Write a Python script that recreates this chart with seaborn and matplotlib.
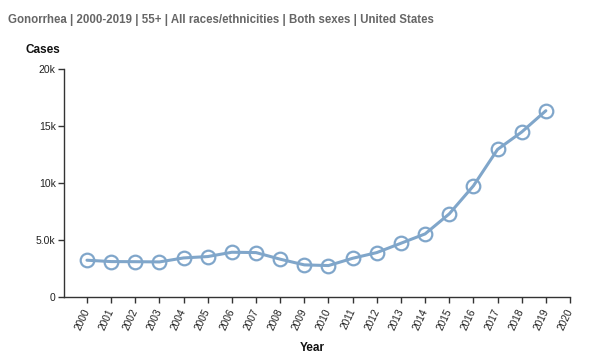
import matplotlib
matplotlib.use("Agg")
import matplotlib.pyplot as plt
import pandas as pd
import seaborn as sns

# data
years = list(range(2000, 2020))
cases = [3230, 3110, 3100, 3080, 3430, 3550, 3930, 3900, 3320, 2820,
         2760, 3400, 3900, 4720, 5540, 7300, 9760, 12960, 14490, 16360]
x_ticks = list(range(2000, 2021))
y_ticks = [0, 5000, 10000, 15000, 20000]
y_tick_labels = ["0", "5.0k", "10k", "15k", "20k"]

title = "Gonorrhea | 2000-2019 | 55+ | All races/ethnicities | Both sexes | United States"

df = pd.DataFrame({"year": years, "cases": cases})

sns.set_style("white")
plt.rcParams["font.family"] = ["Liberation Sans", "DejaVu Sans"]

line_color = "#80a6ca"

fig = plt.figure(figsize=(6, 3.62), dpi=100)
ax = fig.add_axes([0.1067, 0.1796, 0.8433, 0.629])

sns.lineplot(data=df, x="year", y="cases", ax=ax, color=line_color,
             linewidth=2.2, marker="o", markersize=9.8,
             markerfacecolor="none", markeredgecolor=line_color,
             markeredgewidth=1.6)

ax.set_xlim(1999.05, 2020)
ax.set_ylim(0, 20000)
ax.set_xticks(x_ticks)
ax.set_xticklabels([str(x) for x in x_ticks], rotation=65, ha="right",
                   va="center", rotation_mode="anchor", fontsize=7.3)
ax.set_yticks(y_ticks)
ax.set_yticklabels(y_tick_labels, fontsize=7.5)

ax.tick_params(axis="both", which="both", length=4, width=1, color="#333333",
               left=True, bottom=True, pad=2, labelcolor="#222222")
ax.tick_params(axis="x", pad=5)

for s in ["top", "right"]:
    ax.spines[s].set_visible(False)
for s in ["left", "bottom"]:
    ax.spines[s].set_color("#333333")
    ax.spines[s].set_linewidth(1)

ax.set_xlabel("")
ax.set_ylabel("")
fig.text(312 / 600, 1 - 348 / 362, "Year", ha="center", va="center",
         fontsize=8.5, fontweight="bold", color="#111111")
fig.text(25 / 600, 1 - 50 / 362, "Cases", ha="left", va="center",
         fontsize=8.5, fontweight="bold", color="#111111")
fig.text(8 / 600, 1 - 20 / 362, title, ha="left", va="center",
         fontsize=8.3, fontweight="bold", color="#666666")

fig.savefig("out.png", dpi=100)
